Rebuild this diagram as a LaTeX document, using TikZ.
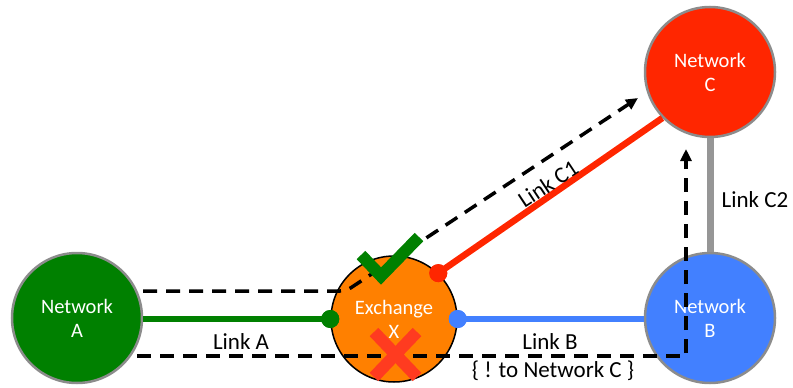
\documentclass[tikz,border=0pt]{standalone}
\usepackage{fontspec}
\setmainfont{Carlito}
\usetikzlibrary{arrows.meta}
\definecolor{netgreen}{RGB}{0,128,0}
\definecolor{netblue}{RGB}{66,128,255}
\definecolor{netred}{RGB}{255,38,0}
\definecolor{xorange}{RGB}{255,128,0}
\definecolor{rimgray}{RGB}{140,140,140}
\definecolor{linkgray}{RGB}{150,150,150}
\definecolor{xred}{RGB}{255,59,32}
\begin{document}
\begin{tikzpicture}[x=1pt,y=-1pt,
  netnode/.style={circle, draw=rimgray, line width=2.5pt, minimum size=130pt, inner sep=0pt,
    align=center, text=white, font=\fontsize{20.5}{24}\selectfont},
  exnode/.style={circle, draw=black, line width=1.5pt, fill=xorange, minimum size=126pt, inner sep=0pt,
    align=center, text=white, font=\fontsize{20.5}{24}\selectfont},
  dotnode/.style={circle, minimum size=18pt, inner sep=0pt},
  linklabel/.style={font=\fontsize{23}{27}\selectfont, text=black, inner sep=1pt},
  dashline/.style={black, line width=3.5pt, dash pattern=on 14pt off 9pt},
  arrowtip/.style={-{Triangle[length=12pt,width=11pt]}},
  solidlink/.style={line width=6.5pt},
]
\useasboundingbox (0,0) rectangle (793,388);

% nodes
\node[netnode, fill=netgreen] (A) at (77,318) {Network\\A};
\node[exnode] (X) at (394,319) {Exchange\\X};
\node[netnode, fill=netblue] (B) at (710,318) {Network\\B};
\node[netnode, fill=netred] (C) at (710,72) {Network\\C};

% dots on exchange
\node[dotnode, fill=netgreen] (gdot) at (X.west) {};
\node[dotnode, fill=netblue] (bdot) at (X.east) {};
\node[dotnode, fill=netred] (rdot) at (X.46) {};

% solid links
\draw[netgreen, solidlink] (A.east |- gdot) -- (gdot.center);
\draw[netblue, solidlink] (bdot.center) -- (B.west |- bdot);
\draw[netred, solidlink] (rdot.center) -- (C.224);
\draw[linkgray, line width=7pt] (C.south) -- (B.north);

% redraw dots over the lines
\node[dotnode, fill=netgreen] at (gdot) {};
\node[dotnode, fill=netblue] at (bdot) {};
\node[dotnode, fill=netred] at (rdot) {};

% dashed paths
\coordinate (t0) at (143,291);
\coordinate (t1) at (346,291);
\coordinate (t2) at (638,98);
\draw[dashline, arrowtip, rounded corners=6pt] (t0) -- (t1) -- (t2);

\coordinate (b0) at (137,356);
\coordinate (b1) at (686,356);
\coordinate (b2) at (686,149);
\draw[dashline, arrowtip] (b0) -- (b1) -- (b2);

% labels
\node[linklabel] (lA) at (241,342) {Link A};
\node[linklabel] (lB) at (550,342) {Link B};
\node[linklabel] (lC2) at (755,200) {Link C2};
\node[linklabel, rotate=33.5] (lC1) at (548,184) {Link C1};
\node[linklabel] (lBang) at (553,371) {\{ ! to Network C \}};

% check mark and cross
\draw[netgreen, line width=12pt, line join=miter] (361,255) -- (381,276) -- (419,237);
\draw[xred, line width=12pt] (374,332) -- (417,377);
\draw[xred, line width=12pt] (417,332) -- (374,377);
\end{tikzpicture}
\end{document}
